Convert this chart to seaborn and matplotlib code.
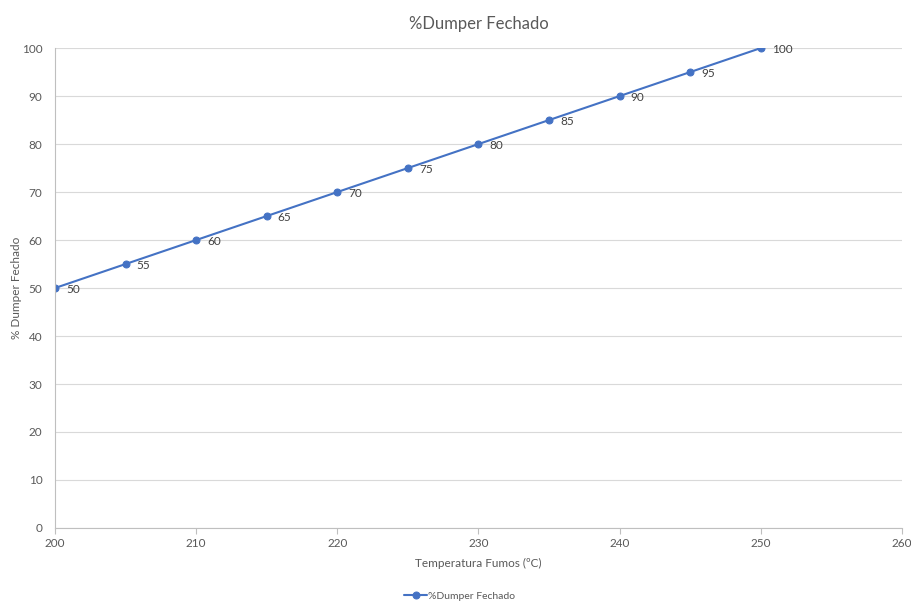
import seaborn as sns
import matplotlib.pyplot as plt
import pandas as pd

# data
temperatura = [200, 205, 210, 215, 220, 225, 230, 235, 240, 245, 250]
dumper = [50, 55, 60, 65, 70, 75, 80, 85, 90, 95, 100]
x_ticks = [200, 210, 220, 230, 240, 250, 260]
y_ticks = [0, 10, 20, 30, 40, 50, 60, 70, 80, 90, 100]

df = pd.DataFrame({'Temperatura': temperatura, 'Dumper': dumper})

sns.set_theme(style="white")
plt.rcParams['font.family'] = ['Lato', 'DejaVu Sans']

grey = '#595959'
blue = '#4472C4'

fig = plt.figure(figsize=(9.11, 6.01), dpi=100)
ax = fig.add_axes([0.0604, 0.1215, 0.9296, 0.7985])

sns.lineplot(data=df, x='Temperatura', y='Dumper', color=blue, linewidth=1.5,
             marker='o', markersize=5, markeredgecolor=blue, ax=ax,
             label='%Dumper Fechado')

# data labels to the right of the points
for xv, yv in zip(temperatura, dumper):
    ax.annotate(str(yv), (xv, yv), xytext=(8, -1), textcoords='offset points',
                fontsize=8.5, color='#404040', va='center', ha='left')

ax.set_xlim(200, 260)
ax.set_ylim(0, 100)
ax.set_xticks(x_ticks)
ax.set_yticks(y_ticks)
ax.yaxis.grid(True, color='#D9D9D9', linewidth=0.8)
ax.set_axisbelow(True)

for s in ['top', 'right']:
    ax.spines[s].set_visible(False)
for s in ['left', 'bottom']:
    ax.spines[s].set_color('#BFBFBF')
    ax.spines[s].set_linewidth(0.8)

ax.tick_params(axis='x', colors='#BFBFBF', labelcolor=grey, labelsize=8.5,
               direction='out', length=4, width=0.8, pad=3, bottom=True)
ax.tick_params(axis='y', labelcolor=grey, labelsize=8.5, length=0, pad=9, left=False)

ax.set_title('%Dumper Fechado', fontsize=12, color=grey, pad=14)
ax.set_xlabel('Temperatura Fumos (ºC)', fontsize=8.5, color=grey, labelpad=7)
ax.set_ylabel('% Dumper Fechado', fontsize=8.5, color=grey, labelpad=0)

ax.legend(loc='upper center', bbox_to_anchor=(0.478, -0.113), frameon=False,
          fontsize=7.5, labelcolor=grey, handlelength=2.2, handletextpad=0.1)

fig.savefig('out.png', dpi=100)
